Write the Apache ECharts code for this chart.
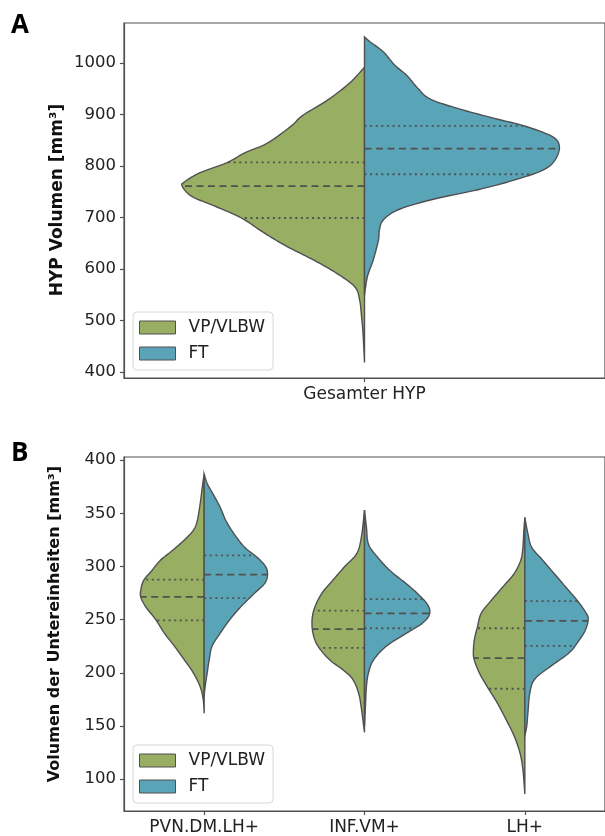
<!DOCTYPE html>
<html>
<head>
<meta charset="utf-8">
<script src="https://cdn.jsdelivr.net/npm/echarts@6/dist/echarts.min.js"></script>
<style>
html,body{margin:0;padding:0;background:#fff;}
#chart{width:605px;height:836px;}
</style>
</head>
<body>
<div id="chart"></div>
<script>
// ---------- DATA ----------
const groups = ['VP/VLBW', 'FT'];
const categoriesA = ['Gesamter HYP'];
const categoriesB = ['PVN.DM.LH+', 'INF.VM+', 'LH+'];
const yTicksA = [400, 500, 600, 700, 800, 900, 1000];
const yTicksB = [100, 150, 200, 250, 300, 350, 400];

// violin outlines: [volume, half-width as fraction of category band]
const vpHyp = [[992,0],[963,0.029],[930,0.074],[898,0.129],[878,0.152],[845,0.201],[826,0.248],[806,0.287],[787,0.342],[770,0.373],[761,0.379],[741,0.359],[722,0.311],[699,0.256],[669,0.207],[643,0.160],[617,0.105],[591,0.057],[565,0.020],[539,0.010],[506,0.006],[474,0.003],[418,0]];
const ftHyp = [[1051,0],[1041,0.012],[1022,0.039],[996,0.063],[976,0.088],[950,0.112],[930,0.137],[911,0.197],[891,0.277],[878,0.332],[858,0.389],[839,0.405],[813,0.397],[793,0.373],[774,0.316],[754,0.236],[735,0.141],[715,0.070],[695,0.039],[676,0.031],[656,0.029],[617,0.018],[585,0.006],[549,0]];

const vpPvn = [[387,0],[374,0.012],[359,0.025],[343,0.043],[334,0.068],[325,0.123],[315,0.198],[306,0.272],[296,0.327],[287,0.377],[278,0.395],[271,0.395],[262,0.364],[250,0.302],[237,0.247],[225,0.185],[212,0.123],[200,0.068],[187,0.025],[175,0.006],[162,0]];
const ftPvn = [[387,0],[378,0.019],[368,0.056],[356,0.099],[343,0.136],[331,0.185],[318,0.253],[309,0.327],[300,0.383],[292,0.395],[284,0.377],[275,0.315],[262,0.228],[250,0.160],[237,0.099],[225,0.049],[212,0.031],[200,0.019],[187,0.006],[178,0]];
const vpInf = [[353,0],[328,0.019],[312,0.049],[300,0.123],[287,0.198],[275,0.265],[262,0.309],[250,0.327],[237,0.321],[225,0.290],[212,0.216],[203,0.136],[194,0.074],[181,0.037],[166,0.019],[144,0]];
const ftInf = [[353,0],[337,0.012],[321,0.025],[309,0.080],[296,0.160],[284,0.259],[275,0.327],[265,0.389],[256,0.407],[247,0.364],[237,0.259],[225,0.136],[212,0.056],[200,0.025],[187,0.012],[169,0.006],[150,0]];
const vpLh = [[346,0],[334,0.006],[318,0.012],[306,0.025],[293,0.068],[281,0.136],[268,0.210],[256,0.272],[243,0.296],[231,0.315],[219,0.321],[212,0.315],[200,0.284],[187,0.235],[172,0.173],[156,0.117],[141,0.068],[125,0.031],[109,0.012],[86,0]];
const ftLh = [[346,0],[331,0.019],[318,0.043],[306,0.111],[293,0.185],[281,0.253],[268,0.327],[256,0.383],[250,0.395],[240,0.377],[231,0.340],[219,0.278],[206,0.160],[194,0.062],[181,0.031],[162,0.019],[150,0.012],[141,0]];

// quartiles [Q1, median, Q3]
const quartVpHyp = [699, 761, 807];
const quartFtHyp = [784, 834, 878];
const quartVpPvn = [249.4, 271.5, 287.7];
const quartFtPvn = [270.3, 292.4, 310.5];
const quartVpInf = [223.5, 241, 258.4];
const quartFtInf = [241.9, 255.9, 269.3];
const quartVpLh = [185, 213.8, 241.9];
const quartFtLh = [225.4, 248.8, 267.5];

// ---------- STYLE ----------
const COLORS = {'VP/VLBW': '#98AE62', 'FT': '#5AA4B8'};
const EDGE = '#505050';
const FONT = 'DejaVu Sans';

function catmull(pts, steps) {
  const out = [];
  const n = pts.length;
  for (let i = 0; i < n - 1; i++) {
    const p0 = pts[Math.max(i - 1, 0)], p1 = pts[i], p2 = pts[i + 1], p3 = pts[Math.min(i + 2, n - 1)];
    for (let s = 0; s < steps; s++) {
      const t = s / steps, t2 = t * t, t3 = t2 * t;
      const f = (a, b, c, d) => 0.5 * ((2 * b) + (-a + c) * t + (2 * a - 5 * b + 4 * c - d) * t2 + (-a + 3 * b - 3 * c + d) * t3);
      out.push([f(p0[0], p1[0], p2[0], p3[0]), f(p0[1], p1[1], p2[1], p3[1])]);
    }
  }
  out.push(pts[n - 1]);
  return out;
}
function widthAt(profile, v) {
  for (let i = 0; i < profile.length - 1; i++) {
    const a = profile[i], b = profile[i + 1];
    if (v <= a[0] && v >= b[0]) {
      const t = (a[0] - v) / (a[0] - b[0]);
      return a[1] + (b[1] - a[1]) * t;
    }
  }
  return 0;
}
function makeRender(profiles, quarts, side) {
  return function (params, api) {
    const cat = api.value(0);
    const profile = profiles[cat];
    const band = api.size([1, 0])[0];
    const cx = api.coord([cat, profile[0][0]])[0];
    const pts = profile.map(p => [cx + side * p[1] * band, api.coord([cat, p[0]])[1]]);
    const smooth = catmull(pts, 10);
    const poly = [[cx, pts[0][1]]].concat(smooth).concat([[cx, pts[pts.length - 1][1]]]);
    const children = [{
      type: 'polygon',
      shape: {points: poly},
      style: {fill: COLORS[params.seriesName], stroke: EDGE, lineWidth: 1.4}
    }];
    quarts[cat].forEach((q, k) => {
      const w = widthAt(profile, q);
      const y = api.coord([cat, q])[1];
      children.push({
        type: 'line',
        shape: {x1: cx, y1: y, x2: cx + side * w * band, y2: y},
        style: {stroke: EDGE, lineWidth: 1.8, lineDash: k === 1 ? [7, 4.5] : [2, 3.6]}
      });
    });
    return {type: 'group', children: children};
  };
}

const axisCommonY = (min, max, ticks) => ({
  type: 'value', min: min, max: max,
  axisLine: {show: true, lineStyle: {color: EDGE, width: 1.2}},
  axisTick: {show: true, length: 4, customValues: ticks, lineStyle: {color: EDGE, width: 1.2}},
  axisLabel: {customValues: ticks, fontFamily: FONT, fontSize: 16.5, color: '#222', margin: 8,
              formatter: v => String(v)},
  splitLine: {show: false}
});
const axisCommonX = (data, gi) => ({
  type: 'category', data: data, gridIndex: gi,
  axisLine: {show: true, lineStyle: {color: EDGE, width: 1.2}},
  axisTick: {show: true, alignWithLabel: true, length: 4, lineStyle: {color: EDGE, width: 1.2}},
  axisLabel: {fontFamily: FONT, fontSize: 17, color: '#222', margin: 8},
  splitLine: {show: false}
});
const legendCommon = (top) => ({
  data: groups, orient: 'vertical', left: 133, top: top,
  padding: [7, 8, 8, 6], itemGap: 9, itemWidth: 36, itemHeight: 13,
  backgroundColor: '#fff', borderColor: '#d8d8d8', borderWidth: 1, borderRadius: 4,
  icon: 'rect',
  itemStyle: {borderColor: EDGE, borderWidth: 1},
  textStyle: {fontFamily: FONT, fontSize: 17, color: '#222', lineHeight: 17, padding: [0, 0, 0, 8]}
});

const chart = echarts.init(document.getElementById('chart'), null, {renderer: 'canvas'});
chart.setOption({
  animation: false,
  backgroundColor: '#fff',
  grid: [
    {left: 124, top: 23, width: 488, height: 355, show: true, borderColor: EDGE, borderWidth: 1.2},
    {left: 124, top: 457, width: 486, height: 355, show: true, borderColor: EDGE, borderWidth: 1.2}
  ],
  xAxis: [axisCommonX(categoriesA, 0), axisCommonX(categoriesB, 1)],
  yAxis: [Object.assign(axisCommonY(388, 1078, yTicksA), {gridIndex: 0}),
          Object.assign(axisCommonY(70, 403, yTicksB), {gridIndex: 1})],
  legend: [legendCommon(312), legendCommon(745)],
  series: [
    {type: 'custom', name: 'VP/VLBW', xAxisIndex: 0, yAxisIndex: 0, itemStyle: {color: COLORS['VP/VLBW']},
     data: [[0]], renderItem: makeRender([vpHyp], [quartVpHyp], -1)},
    {type: 'custom', name: 'FT', xAxisIndex: 0, yAxisIndex: 0, itemStyle: {color: COLORS['FT']},
     data: [[0]], renderItem: makeRender([ftHyp], [quartFtHyp], 1)},
    {type: 'custom', name: 'VP/VLBW', xAxisIndex: 1, yAxisIndex: 1, itemStyle: {color: COLORS['VP/VLBW']},
     data: [[0], [1], [2]], renderItem: makeRender([vpPvn, vpInf, vpLh], [quartVpPvn, quartVpInf, quartVpLh], -1)},
    {type: 'custom', name: 'FT', xAxisIndex: 1, yAxisIndex: 1, itemStyle: {color: COLORS['FT']},
     data: [[0], [1], [2]], renderItem: makeRender([ftPvn, ftInf, ftLh], [quartFtPvn, quartFtInf, quartFtLh], 1)}
  ],
  graphic: [
    {type: 'text', left: 11, top: 13, style: {text: 'A', font: 'bold 26px "Open Sans"', fill: '#000'}},
    {type: 'text', left: 11, top: 441, style: {text: 'B', font: 'bold 26px "Open Sans"', fill: '#000'}},
    {type: 'text', x: 58, y: 200, rotation: Math.PI / 2,
     style: {text: 'HYP Volumen [mm³]', font: 'bold 17px "DejaVu Sans"', fill: '#111', align: 'center', verticalAlign: 'middle'}},
    {type: 'text', x: 55, y: 624, rotation: Math.PI / 2,
     style: {text: 'Volumen der Untereinheiten [mm³]', font: 'bold 16px "DejaVu Sans"', fill: '#111', align: 'center', verticalAlign: 'middle'}}
  ]
});
</script>
</body>
</html>
